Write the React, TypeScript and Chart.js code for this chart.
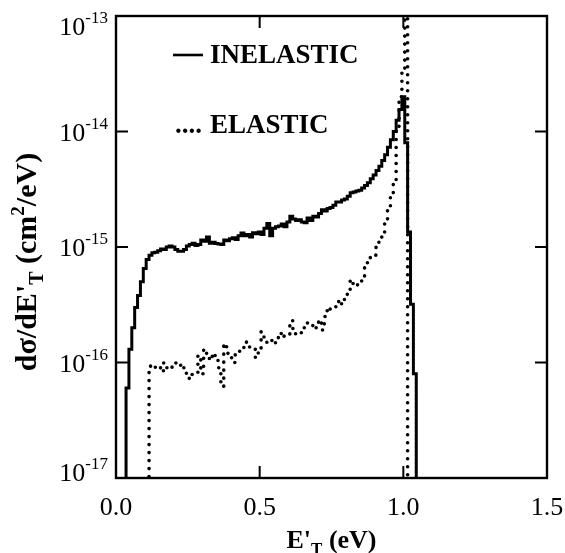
import { useEffect, useRef } from "react";
import { Chart, registerables } from "chart.js";

Chart.register(...registerables);

// Histogram bins (eV): left edge of first bin and bin width
const BIN_START = 0.005;
const BIN_WIDTH = 0.01;

// INELASTIC dσ/dE'T in units of 1e-15 cm²/eV, one value per bin
const INELASTIC_UNIT = 1e-15;
const INELASTIC = [
  0, 0, 0, 0.06, 0.13, 0.2, 0.3, 0.38, 0.5, 0.65,
  0.78, 0.85, 0.89, 0.9, 0.93, 0.96, 0.95, 1.0, 1.02, 1.0,
  0.95, 0.92, 0.92, 0.95, 1.02, 1.05, 1.08, 1.03, 1.05, 1.15,
  1.12, 1.22, 1.08, 1.1, 1.07, 1.06, 1.05, 1.15, 1.13, 1.18,
  1.2, 1.16, 1.25, 1.32, 1.25, 1.28, 1.22, 1.33, 1.3, 1.35,
  1.28, 1.45, 1.6, 1.25, 1.45, 1.5, 1.52, 1.58, 1.5, 1.65,
  1.85, 1.75, 1.7, 1.72, 1.65, 1.62, 1.78, 1.7, 1.85, 1.82,
  1.95, 2.1, 2.05, 2.15, 2.2, 2.3, 2.45, 2.45, 2.55, 2.6,
  2.75, 2.95, 3.0, 3.05, 3.1, 3.25, 3.4, 3.6, 3.9, 4.2,
  4.6, 5.0, 5.6, 6.3, 7.3, 8.5, 10.0, 12.5, 15.5, 20.0,
  8.0, 1.35, 0.32, 0.08,
];

// ELASTIC dσ/dE'T in units of 1e-16 cm²/eV, one value per bin
const ELASTIC_UNIT = 1e-16;
const ELASTIC = [
  0, 0, 0, 0, 0, 0, 0, 0, 0, 0,
  0, 0.93, 0.95, 0.91, 0.93, 0.83, 0.99, 0.9, 0.88, 0.93,
  0.99, 1.0, 0.88, 0.9, 0.8, 0.72, 0.8, 0.82, 1.15, 0.8,
  1.3, 1.2, 1.05, 1.2, 1.1, 0.9, 0.62, 1.45, 1.2, 1.1,
  1.0, 1.2, 1.25, 1.3, 1.5, 1.45, 1.35, 1.3, 1.1, 1.3,
  1.84, 1.6, 1.48, 1.55, 1.45, 1.6, 1.8, 1.65, 1.7, 1.75,
  2.3, 1.97, 1.75, 1.8, 1.9, 2.0, 2.2, 2.1, 1.95, 2.0,
  2.33, 1.91, 2.5, 3.0, 2.9, 3.0, 3.3, 3.47, 3.2, 3.6,
  4.2, 5.2, 4.6, 4.7, 4.8, 5.5, 6.6, 8.0, 8.3, 8.5,
  10.0, 11.0, 13.0, 17.0, 21.0, 29.0, 36.0, 100, 200, 350,
  3000,
];

const X_MIN = 0;
const X_MAX = 1.5;
const X_TICKS = [0.0, 0.5, 1.0, 1.5];
const X_TICK_LABELS = ["0.0", "0.5", "1.0", "1.5"];
const Y_TICK_EXPONENTS = [-13, -14, -15, -16, -17];
const Y_MIN = 1e-17;
const Y_MAX = 1e-13;
const FLOOR = 1e-19; // stands in for empty bins on the log axis

const LEGEND_INELASTIC = "INELASTIC";
const LEGEND_ELASTIC = "ELASTIC";

const SERIF = '"Liberation Serif", "Times New Roman", serif';

function toSteps(values: number[], unit: number) {
  const pts = values.map((v, i) => ({
    x: BIN_START + i * BIN_WIDTH,
    y: v > 0 ? v * unit : FLOOR,
  }));
  pts.push({ x: BIN_START + values.length * BIN_WIDTH, y: FLOOR });
  return pts;
}

type Seg = { t: string; size: number; dy: number; bold: boolean };

function drawSegs(ctx: CanvasRenderingContext2D, segs: Seg[], x: number, y: number, align: "center" | "right" | "left") {
  let total = 0;
  const widths = segs.map((s) => {
    ctx.font = `${s.bold ? "bold " : ""}${s.size}px ${SERIF}`;
    const w = ctx.measureText(s.t).width;
    total += w;
    return w;
  });
  let cx = align === "center" ? x - total / 2 : align === "right" ? x - total : x;
  ctx.textAlign = "left";
  ctx.textBaseline = "alphabetic";
  segs.forEach((s, i) => {
    ctx.font = `${s.bold ? "bold " : ""}${s.size}px ${SERIF}`;
    ctx.fillText(s.t, cx, y + s.dy);
    cx += widths[i];
  });
}

const framePlugin = {
  id: "framePlugin",
  afterDraw(chart: any) {
    const { ctx, chartArea: a, scales } = chart;
    const xs = scales.x;
    const ys = scales.y;
    ctx.save();
    ctx.strokeStyle = "#000";
    ctx.fillStyle = "#000";
    ctx.lineWidth = 2.4;
    ctx.lineCap = "butt";
    ctx.strokeRect(a.left, a.top, a.right - a.left, a.bottom - a.top);

    const TL = 12;
    ctx.lineWidth = 2;
    // x ticks (inside, top and bottom)
    X_TICKS.forEach((v, i) => {
      const px = xs.getPixelForValue(v);
      if (v > X_MIN && v < X_MAX) {
        ctx.beginPath();
        ctx.moveTo(px, a.bottom);
        ctx.lineTo(px, a.bottom - TL);
        ctx.moveTo(px, a.top);
        ctx.lineTo(px, a.top + TL);
        ctx.stroke();
      }
      ctx.font = `26px ${SERIF}`;
      ctx.textAlign = "center";
      ctx.textBaseline = "alphabetic";
      ctx.fillText(X_TICK_LABELS[i], px, a.bottom + 37);
    });

    // y ticks (inside, left and right)
    Y_TICK_EXPONENTS.forEach((e, i) => {
      const v = Math.pow(10, e);
      let py = ys.getPixelForValue(v);
      if (v > Y_MIN && v < Y_MAX) {
        ctx.beginPath();
        ctx.moveTo(a.left, py);
        ctx.lineTo(a.left + TL, py);
        ctx.moveTo(a.right, py);
        ctx.lineTo(a.right - TL, py);
        ctx.stroke();
      }
      if (i === 0) py += 10;
      if (i === Y_TICK_EXPONENTS.length - 1) py -= 6;
      const rightEdge = a.left - 8;
      ctx.font = `17px ${SERIF}`;
      const expText = String(e);
      const ew = ctx.measureText(expText).width;
      ctx.textAlign = "left";
      ctx.fillText(expText, rightEdge - ew, py - 3);
      ctx.font = `26px ${SERIF}`;
      ctx.textAlign = "right";
      ctx.fillText("10", rightEdge - ew, py + 9);
    });

    // x title
    drawSegs(
      ctx,
      [
        { t: "E'", size: 26, dy: 0, bold: true },
        { t: "T", size: 17, dy: 6, bold: true },
        { t: " (eV)", size: 26, dy: 0, bold: true },
      ],
      (a.left + a.right) / 2,
      548,
      "center"
    );

    // y title (rotated)
    ctx.save();
    ctx.translate(36, 262);
    ctx.rotate(-Math.PI / 2);
    drawSegs(
      ctx,
      [
        { t: "dσ/dE'", size: 30, dy: 0, bold: true },
        { t: "T", size: 20, dy: 7, bold: true },
        { t: " (cm", size: 30, dy: 0, bold: true },
        { t: "2", size: 19, dy: -12, bold: true },
        { t: "/eV)", size: 30, dy: 0, bold: true },
      ],
      0,
      0,
      "center"
    );
    ctx.restore();

    // legend
    ctx.lineWidth = 2.6;
    ctx.beginPath();
    ctx.moveTo(a.left + 57, a.top + 39);
    ctx.lineTo(a.left + 87, a.top + 39);
    ctx.stroke();
    ctx.font = `bold 27px ${SERIF}`;
    ctx.textAlign = "left";
    ctx.fillText(LEGEND_INELASTIC, a.left + 94, a.top + 47);
    ctx.fillText("....", a.left + 59, a.top + 117);
    ctx.fillText(LEGEND_ELASTIC, a.left + 94, a.top + 117);
    ctx.restore();
  },
};

export default function App() {
  const ref = useRef<HTMLCanvasElement | null>(null);
  useEffect(() => {
    if (!ref.current) return;
    const chart = new Chart(ref.current, {
      type: "line",
      data: {
        datasets: [
          {
            label: LEGEND_INELASTIC,
            data: toSteps(INELASTIC, INELASTIC_UNIT),
            stepped: true,
            borderColor: "#000",
            borderWidth: 3,
            pointRadius: 0,
            fill: false,
          },
          {
            label: LEGEND_ELASTIC,
            data: toSteps(ELASTIC, ELASTIC_UNIT),
            stepped: true,
            borderColor: "#000",
            borderWidth: 3.6,
            borderDash: [0, 8],
            borderCapStyle: "round",
            pointRadius: 0,
            fill: false,
          },
        ],
      },
      options: {
        animation: false,
        responsive: false,
        devicePixelRatio: 1,
        parsing: false,
        normalized: true,
        layout: { padding: { left: 116, right: 18, top: 16, bottom: 75 } },
        plugins: { legend: { display: false }, tooltip: { enabled: false }, title: { display: false } },
        events: [],
        scales: {
          x: { type: "linear", min: X_MIN, max: X_MAX, display: false },
          y: { type: "logarithmic", min: Y_MIN, max: Y_MAX, display: false },
        },
      },
      plugins: [framePlugin],
    } as any);
    return () => chart.destroy();
  }, []);
  return (
    <div style={{ position: "fixed", left: 0, top: 0, width: 565, height: 553, background: "#fff" }}>
      <canvas ref={ref} width={565} height={553} style={{ display: "block" }} />
    </div>
  );
}
